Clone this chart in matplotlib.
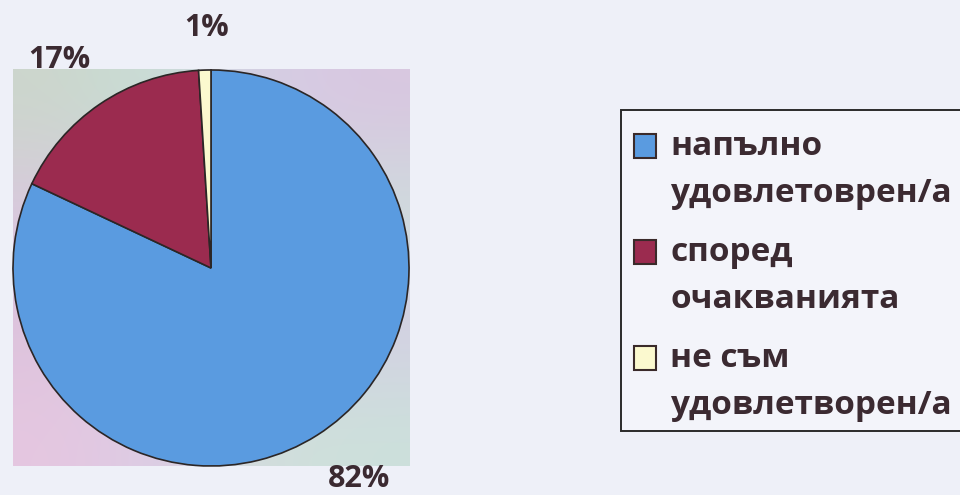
import numpy as np
import matplotlib
matplotlib.use("Agg")
import matplotlib.pyplot as plt
from matplotlib.patches import Rectangle

categories = ["напълно\nудовлетоврен/а", "според\nочакванията", "не съм\nудовлетворен/а"]
values = [82, 17, 1]
pct_labels = ["82%", "17%", "1%"]
colors = ["#5a9be0", "#9b2b4f", "#fbf9cf"]

plt.rcParams['font.family'] = ['Open Sans', 'DejaVu Sans']
W, H = 960, 495
fig = plt.figure(figsize=(W / 100, H / 100), dpi=100)
fig.patch.set_facecolor("#eef0f8")

def fx(px):
    return px / W

def fy(py):
    return 1 - py / H

ax = fig.add_axes([12 / W, 28 / H, 398 / W, 398 / H])
ctrl = np.array([
    [[0.80, 0.84, 0.80], [0.78, 0.88, 0.84], [0.84, 0.80, 0.90], [0.85, 0.78, 0.88]],
    [[0.86, 0.78, 0.88], [0.82, 0.80, 0.90], [0.82, 0.84, 0.88], [0.80, 0.88, 0.86]],
    [[0.86, 0.76, 0.86], [0.84, 0.80, 0.90], [0.84, 0.78, 0.88], [0.84, 0.80, 0.90]],
    [[0.90, 0.78, 0.88], [0.86, 0.80, 0.90], [0.82, 0.88, 0.86], [0.80, 0.88, 0.86]],
])
ax.imshow(ctrl, extent=[-1, 1, -1, 1], interpolation="bicubic", zorder=0, aspect="auto")
wedges, _ = ax.pie(values, colors=colors, startangle=90, counterclock=False, radius=1.0,
                   wedgeprops=dict(edgecolor="#2b2626", linewidth=1.2))
for w in wedges:
    w.set_zorder(2)
ax.set_xlim(-1.005, 1.005)
ax.set_ylim(-1.005, 1.005)
ax.set_aspect("auto")
for s in ax.spines.values():
    s.set_edgecolor("#8a8a8a")
    s.set_linewidth(1)
ax.set_xticks([])
ax.set_yticks([])

txtc = "#3b2a31"
label_pos = [(359, 479), (59, 60), (207, 28)]
for lab, (px, py) in zip(pct_labels, label_pos):
    fig.text(fx(px), fy(py), lab, ha="center", va="center", fontsize=22,
             fontweight="bold", color=txtc)

# legend (drawn from the wedges' colours and the category names)
box = Rectangle((fx(621), fy(431)), fx(980) - fx(621), fy(110) - fy(431),
                transform=fig.transFigure, facecolor="#f3f4fa", edgecolor="#2a2a2a",
                linewidth=1.4, zorder=1)
fig.patches.append(box)
item_top = 146
item_step = 106
line_step = 47
for i, (cat, w) in enumerate(zip(categories, wedges)):
    y0 = item_top + i * item_step
    sq = Rectangle((fx(634), fy(y0 + 12)), fx(656) - fx(634), fy(y0 - 12) - fy(y0 + 12),
                   transform=fig.transFigure, facecolor=w.get_facecolor(),
                   edgecolor="#3a2a2a", linewidth=1.5, zorder=2)
    fig.patches.append(sq)
    for j, line in enumerate(cat.split("\n")):
        fig.text(fx(670), fy(y0 + j * line_step + 9), line, ha="left", va="baseline",
                 fontsize=24, fontweight="bold", color=txtc, zorder=3)

fig.savefig("out.png", dpi=100, facecolor=fig.get_facecolor())
